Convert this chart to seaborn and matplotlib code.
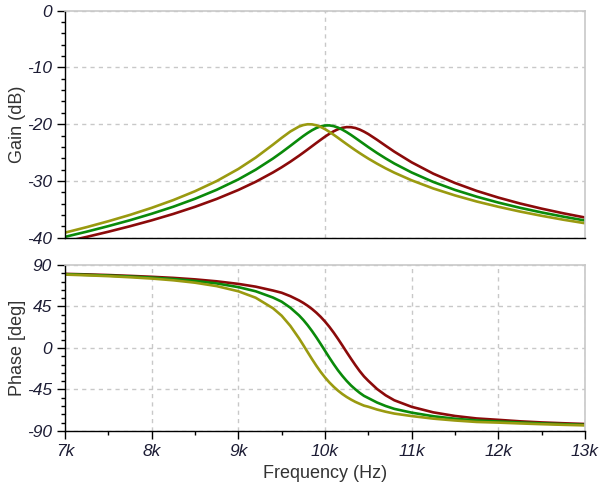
import pandas as pd
import matplotlib
matplotlib.use("Agg")
import matplotlib.pyplot as plt
from matplotlib.ticker import MultipleLocator
import seaborn as sns

# frequency grid in kHz
freq_khz = [7.0, 7.25, 7.5, 7.75, 8.0, 8.25, 8.5, 8.75, 9.0,
            9.2, 9.4, 9.5, 9.6, 9.7,
            9.75, 9.8, 9.85, 9.9, 9.95, 10.0,
            10.05, 10.1, 10.15, 10.2, 10.25, 10.3,
            10.35, 10.4, 10.45, 10.5,
            10.6, 10.7, 10.8, 11.0,
            11.25, 11.5, 11.75, 12.0,
            12.25, 12.5, 12.75, 13.0]

# gain in dB
gain_red = [-40.72, -39.86, -38.95, -37.98, -36.94, -35.81, -34.56, -33.17, -31.59,
            -30.15, -28.50, -27.59, -26.61, -25.56,
            -25.01, -24.45, -23.88, -23.31, -22.75, -22.20,
            -21.70, -21.25, -20.89, -20.64, -20.51, -20.53,
            -20.67, -20.94, -21.31, -21.74,
            -22.74, -23.80, -24.84, -26.72,
            -28.72, -30.36, -31.75, -32.93,
            -33.97, -34.88, -35.70, -36.44]
gain_green = [-39.85, -38.94, -37.96, -36.92, -35.78, -34.54, -33.14, -31.56, -29.73,
              -28.02, -26.05, -24.96, -23.82, -22.65,
              -22.08, -21.55, -21.07, -20.67, -20.38, -20.23,
              -20.21, -20.34, -20.60, -20.96, -21.40, -21.89,
              -22.42, -22.96, -23.50, -24.04,
              -25.07, -26.03, -26.93, -28.51,
              -30.18, -31.58, -32.77, -33.81,
              -34.73, -35.55, -36.29, -36.97]
gain_olive = [-39.11, -38.14, -37.10, -35.98, -34.74, -33.37, -31.81, -30.02, -27.89,
              -25.89, -23.60, -22.41, -21.29, -20.42,
              -20.15, -20.01, -20.03, -20.19, -20.48, -20.87,
              -21.34, -21.86, -22.40, -22.96, -23.51, -24.05,
              -24.58, -25.09, -25.58, -26.06,
              -26.95, -27.78, -28.54, -29.89,
              -31.33, -32.55, -33.62, -34.55,
              -35.39, -36.14, -36.83, -37.45]

# phase in degrees
phase_red = [80.4, 79.8, 79.1, 78.2, 77.2, 76.0, 74.4, 72.3, 69.5,
             66.5, 62.3, 59.9, 56.2, 51.6,
             48.9, 45.8, 42.3, 38.3, 33.8, 28.7,
             23.0, 16.7, 9.9, 2.8, -4.5, -11.6,
             -18.5, -25.0, -30.8, -35.6,
             -44.4, -51.3, -56.7, -63.8,
             -69.8, -73.7, -76.4, -77.9,
             -79.5, -80.7, -81.6, -82.4]
phase_green = [80.0, 79.3, 78.5, 77.5, 76.3, 74.8, 72.7, 70.0, 66.0,
               61.5, 54.7, 50.2, 43.7, 35.4,
               30.4, 24.7, 18.4, 11.6, 4.4, -3.0,
               -10.4, -17.5, -24.2, -30.2, -35.7, -40.6,
               -44.8, -48.6, -51.9, -54.3,
               -59.1, -62.9, -66.0, -70.1,
               -74.0, -76.7, -78.6, -79.7,
               -80.8, -81.8, -82.6, -83.3]
phase_olive = [79.6, 78.8, 77.9, 76.7, 75.3, 73.4, 70.8, 67.1, 61.5,
               54.5, 43.1, 35.0, 24.0, 10.5,
               3.1, -4.5, -12.0, -19.2, -25.9, -31.9,
               -37.3, -42.0, -46.2, -49.9, -53.1, -55.9,
               -58.4, -60.5, -62.5, -63.7,
               -66.7, -69.1, -71.1, -73.8,
               -76.6, -78.6, -80.2, -80.9,
               -81.8, -82.6, -83.3, -83.9]

series_names = ["red", "green", "olive"]
series_colors = {"red": "#8b0a0a", "green": "#0a8a0a", "olive": "#9a9a10"}

frames = []
for name, g, p in zip(series_names,
                      [gain_red, gain_green, gain_olive],
                      [phase_red, phase_green, phase_olive]):
    frames.append(pd.DataFrame({"freq": freq_khz, "gain": g, "phase": p, "series": name}))
df = pd.concat(frames, ignore_index=True)

sns.set_style("white")
plt.rcParams["font.family"] = ["Liberation Sans", "DejaVu Sans"]

tick_color = "#1c1c34"
grid_color = "#c8c8c8"
dash = (0, (3, 3))

fig = plt.figure(figsize=(6, 4.88), dpi=100)
ax1 = fig.add_axes([0.1083, 0.5129, 0.8667, 0.4652])
ax2 = fig.add_axes([0.1083, 0.1168, 0.8667, 0.3402])

sns.lineplot(data=df, x="freq", y="gain", hue="series", hue_order=series_names,
             palette=series_colors, legend=False, linewidth=1.9, ax=ax1)
sns.lineplot(data=df, x="freq", y="phase", hue="series", hue_order=series_names,
             palette=series_colors, legend=False, linewidth=1.9, ax=ax2)

x_ticks = [7, 8, 9, 10, 11, 12, 13]
for ax in (ax1, ax2):
    ax.set_xlim(7, 13)
    ax.xaxis.set_minor_locator(MultipleLocator(0.5))
    for side in ("top", "right"):
        ax.spines[side].set_color(grid_color)
        ax.spines[side].set_linewidth(1.2)
    for side in ("left", "bottom"):
        ax.spines[side].set_color("black")
        ax.spines[side].set_linewidth(1.0)
    ax.tick_params(axis="y", which="major", direction="out", length=6, width=1,
                   color="black", left=True)
    ax.tick_params(axis="y", which="minor", direction="out", length=3, width=1,
                   color="black", left=True)
    ax.set_xlabel("")

# top: gain
ax1.set_ylim(-40, 0)
ax1.set_yticks([0, -10, -20, -30, -40], ["0", "-10", "-20", "-30", "-40"],
               fontstyle="italic", fontsize=12.5, color=tick_color)
ax1.yaxis.set_minor_locator(MultipleLocator(2))
ax1.set_xticks(x_ticks)
ax1.tick_params(axis="x", which="both", bottom=False, labelbottom=False)
ax1.yaxis.grid(True, linestyle=dash, color=grid_color, linewidth=1)
ax1.axvline(10, linestyle=dash, color=grid_color, linewidth=1, zorder=0)
ax1.set_ylabel("Gain (dB)", fontsize=13, color="#333333")
ax1.yaxis.set_label_coords(-0.075, 0.5)

# bottom: phase
ax2.set_ylim(-90, 90)
ax2.set_yticks([90, 45, 0, -45, -90], ["90", "45", "0", "-45", "-90"],
               fontstyle="italic", fontsize=12.5, color=tick_color)
ax2.yaxis.set_minor_locator(MultipleLocator(9))
ax2.set_xticks(x_ticks, [f"{t}k" for t in x_ticks], fontstyle="italic",
               fontsize=12.5, color=tick_color)
ax2.tick_params(axis="x", which="major", direction="out", length=6, width=1,
                color="black", bottom=True)
ax2.tick_params(axis="x", which="minor", direction="out", length=3, width=1,
                color="black", bottom=True)
ax2.grid(True, which="major", linestyle=dash, color=grid_color, linewidth=1)
ax2.set_ylabel("Phase [deg]", fontsize=13, color="#333333")
ax2.yaxis.set_label_coords(-0.075, 0.5)
ax2.set_xlabel("Frequency (Hz)", fontsize=13, color="#333333")

fig.savefig("out.png", dpi=100)
